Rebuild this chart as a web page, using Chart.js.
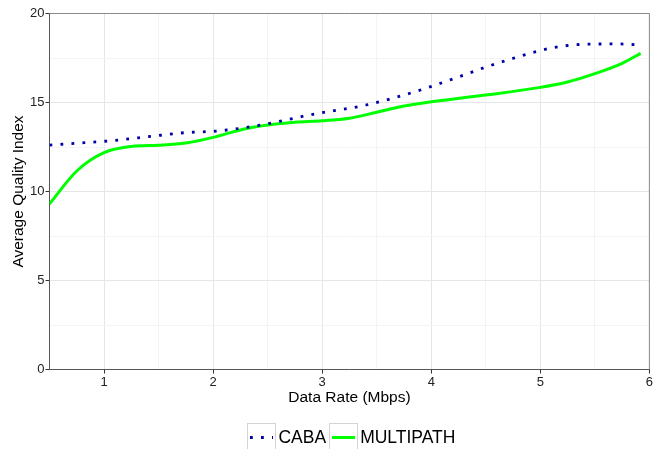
<!DOCTYPE html>
<html>
<head>
<meta charset="utf-8">
<script src="https://cdn.jsdelivr.net/npm/chart.js@4/dist/chart.umd.min.js"></script>
<style>
html,body{margin:0;padding:0;background:#fff;}
#wrap{width:654px;height:449px;position:relative;}
</style>
</head>
<body>
<div id="wrap"><canvas id="c" width="654" height="449"></canvas></div>
<script>
// ---- data ----
const seriesNames = ["CABA", "MULTIPATH"];
const cabaX = [0.5, 0.82, 1.13, 1.43, 1.73, 2.04, 2.35, 2.64, 2.94, 3.35, 3.64, 3.94, 4.23, 4.51, 4.81, 5.10, 5.40, 5.71, 5.92];
const cabaY = [12.61, 12.74, 12.89, 13.10, 13.30, 13.40, 13.64, 13.98, 14.37, 14.79, 15.23, 15.78, 16.39, 17.01, 17.59, 18.06, 18.27, 18.29, 18.23];
const multiX = [0.5, 0.75, 1.0, 1.25, 1.5, 1.75, 2.0, 2.25, 2.5, 2.75, 3.0, 3.25, 3.5, 3.75, 4.0, 4.5, 5.0, 5.25, 5.5, 5.75, 5.92];
const multiY = [9.3, 11.15, 12.18, 12.53, 12.6, 12.72, 13.04, 13.46, 13.73, 13.89, 13.97, 14.12, 14.45, 14.8, 15.04, 15.42, 15.85, 16.15, 16.62, 17.2, 17.76];
const xTickLabels = [1, 2, 3, 4, 5, 6];
const yTickLabels = [0, 5, 10, 15, 20];
const xTitle = "Data Rate (Mbps)";
const yTitle = "Average Quality Index";

const FONT = "'Liberation Sans', Arial, sans-serif";
const toPts = (xs, ys) => xs.map((x, i) => ({x: x, y: ys[i]}));

const boxPlugin = {
  id: 'panelBox',
  afterDatasetsDraw(chart) {
    const {ctx, chartArea: a} = chart;
    ctx.save();
    ctx.strokeStyle = '#8a8a8a';
    ctx.lineWidth = 1;
    ctx.beginPath();
    ctx.moveTo(a.left, a.top);
    ctx.lineTo(a.right, a.top);
    ctx.lineTo(a.right, a.bottom);
    ctx.stroke();
    ctx.restore();
  }
};

const legendPlugin = {
  id: 'ggLegend',
  afterDraw(chart) {
    const {ctx, chartArea: a} = chart;
    const ds = chart.data.datasets;
    ctx.save();
    ctx.font = "17.5px " + FONT;
    ctx.textBaseline = 'middle';
    const key = 28, gapT = 3, gapI = 3;
    const widths = ds.map(d => ctx.measureText(d.label).width);
    let total = 0;
    widths.forEach((w, i) => { total += key + gapT + w + (i < ds.length - 1 ? gapI : 0); });
    let x = (a.left + a.right) / 2 - total / 2 + 2;
    const top = 423.5, cy = 437.5;
    ds.forEach((d, i) => {
      ctx.strokeStyle = '#d4d4d4';
      ctx.lineWidth = 1;
      ctx.strokeRect(Math.round(x) + 0.5, top, key, key);
      ctx.strokeStyle = d.borderColor;
      ctx.lineWidth = d.borderWidth;
      ctx.setLineDash(d.borderDash || []);
      ctx.beginPath();
      ctx.moveTo(Math.round(x) + 3, cy);
      ctx.lineTo(Math.round(x) + key - 2, cy);
      ctx.stroke();
      ctx.setLineDash([]);
      ctx.fillStyle = '#000';
      ctx.fillText(d.label, x + key + gapT, cy + 1);
      x += key + gapT + widths[i] + gapI;
    });
    ctx.restore();
  }
};

new Chart(document.getElementById('c'), {
  type: 'line',
  data: {
    datasets: [
      {
        label: seriesNames[0],
        data: toPts(cabaX, cabaY),
        borderColor: '#0000a8',
        borderWidth: 2.8,
        borderDash: [2.8, 8.2],
        borderCapStyle: 'butt',
        pointRadius: 0,
        fill: false,
        cubicInterpolationMode: 'monotone'
      },
      {
        label: seriesNames[1],
        data: toPts(multiX, multiY),
        borderColor: '#00ff00',
        borderWidth: 3,
        pointRadius: 0,
        fill: false,
        cubicInterpolationMode: 'monotone'
      }
    ]
  },
  options: {
    responsive: false,
    animation: false,
    devicePixelRatio: 1,
    layout: { padding: { left: 0, right: 4.5, top: 13.5, bottom: 39.5 } },
    plugins: { legend: { display: false }, tooltip: { enabled: false } },
    scales: {
      x: {
        type: 'linear',
        min: 0.5, max: 6,
        afterFit(s) { s.height = 40; },
        afterBuildTicks(s) {
          const t = [];
          for (let v = 0.5; v <= 6.001; v += 0.5) t.push({value: Math.round(v * 10) / 10});
          s.ticks = t;
        },
        border: { display: true, color: '#555', width: 1 },
        grid: {
          color: c => (Number.isInteger(c.tick.value) ? '#e6e6e6' : '#f4f4f4'),
          tickColor: c => (xTickLabels.includes(c.tick.value) ? '#333' : 'rgba(0,0,0,0)'),
          tickLength: 4,
          lineWidth: 1
        },
        ticks: {
          autoSkip: false,
          maxRotation: 0,
          padding: 1,
          color: '#222',
          font: { family: FONT, size: 13 },
          callback: v => (xTickLabels.includes(v) ? String(v) : '')
        },
        title: {
          display: true, text: xTitle, color: '#000',
          font: { family: FONT, size: 15.5 },
          padding: { top: 0, bottom: 2 }
        }
      },
      y: {
        type: 'linear',
        min: 0, max: 20,
        afterFit(s) { s.width = 49.5; },
        afterBuildTicks(s) {
          const t = [];
          for (let v = 0; v <= 20.001; v += 2.5) t.push({value: v});
          s.ticks = t;
        },
        border: { display: true, color: '#555', width: 1 },
        grid: {
          color: c => (c.tick.value % 5 === 0 ? '#e6e6e6' : '#f4f4f4'),
          tickColor: c => (yTickLabels.includes(c.tick.value) ? '#333' : 'rgba(0,0,0,0)'),
          tickLength: 4,
          lineWidth: 1
        },
        ticks: {
          autoSkip: false,
          padding: 1,
          color: '#222',
          font: { family: FONT, size: 13 },
          callback: v => (yTickLabels.includes(v) ? String(v) : '')
        },
        title: {
          display: true, text: yTitle, color: '#000',
          font: { family: FONT, size: 15.5 },
          padding: { top: 9, bottom: 0 }
        }
      }
    }
  },
  plugins: [boxPlugin, legendPlugin]
});
</script>
</body>
</html>
